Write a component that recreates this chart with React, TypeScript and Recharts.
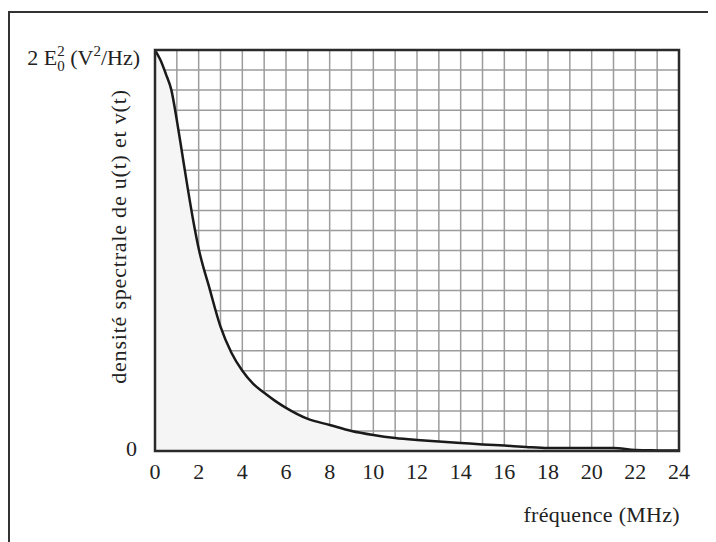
import { ComposedChart, Area, XAxis, YAxis, CartesianGrid, ReferenceArea, Label } from "recharts";

// fréquence (MHz) et densité spectrale (en carreaux, 20 = 2 E0²)
const freqMHz = [0, 0.25, 0.5, 0.75, 1, 1.25, 1.5, 1.75, 2, 2.5, 3, 3.5, 4, 4.5, 5, 5.5, 6, 7, 8, 9, 10, 11, 12, 13, 14, 15, 16, 17, 18, 19, 20, 21, 22, 23, 24];
const density = [20, 19.5, 18.8, 18.0, 16.5, 14.8, 13.1, 11.5, 10.1, 8.1, 6.2, 4.9, 4.0, 3.35, 2.9, 2.5, 2.15, 1.6, 1.3, 1.0, 0.8, 0.65, 0.55, 0.47, 0.4, 0.33, 0.27, 0.2, 0.15, 0.15, 0.15, 0.15, 0.05, 0.03, 0.02];

const xTicks = [0, 1, 2, 3, 4, 5, 6, 7, 8, 9, 10, 11, 12, 13, 14, 15, 16, 17, 18, 19, 20, 21, 22, 23, 24];
const yTicks = [0, 1, 2, 3, 4, 5, 6, 7, 8, 9, 10, 11, 12, 13, 14, 15, 16, 17, 18, 19, 20];

const data = freqMHz.map((f, i) => ({ f, d: density[i] }));

const FONT = "'Liberation Serif', 'Times New Roman', serif";
const INK = "#222";

const YTick = ({ x, y, payload }: any) => {
  if (payload.value === 0) {
    return (
      <text x={x} y={y + 5} textAnchor="end" fontFamily={FONT} fontSize={22} fill={INK}>
        0
      </text>
    );
  }
  if (payload.value === 20) {
    return (
      <text x={x + 3} y={y + 15} textAnchor="end" fontFamily={FONT} fontSize={22} fill={INK}>
        2 E
        <tspan dy={-9} fontSize={15}>2</tspan>
        <tspan dx={-7.5} dy={15} fontSize={15}>0</tspan>
        <tspan dy={-6}> (V</tspan>
        <tspan dy={-9} fontSize={15}>2</tspan>
        <tspan dy={9}>/Hz)</tspan>
      </text>
    );
  }
  return null;
};

const XTitle = ({ viewBox }: any) => (
  <text
    x={viewBox.x + viewBox.width + 1}
    y={viewBox.y + 71}
    textAnchor="end"
    fontFamily={FONT}
    fontSize={22}
    fill={INK}
    letterSpacing={0.3}
  >
    fréquence (MHz)
  </text>
);

const YTitle = ({ viewBox }: any) => {
  const cx = 118;
  const cy = viewBox.y + viewBox.height / 2 - 14;
  return (
    <text
      x={cx}
      y={cy}
      transform={`rotate(-90, ${cx}, ${cy})`}
      textAnchor="middle"
      fontFamily={FONT}
      fontSize={22}
      fill={INK}
      letterSpacing={0.8}
    >
      densité spectrale de u(t) et v(t)
    </text>
  );
};

export default function App() {
  return (
    <div style={{ position: "relative", width: 708, height: 534, overflow: "hidden", background: "#fff" }}>
      <div
        style={{
          position: "absolute",
          left: 0,
          top: 3,
          width: 702,
          height: 620,
          border: "2px solid #333",
          boxSizing: "border-box",
        }}
      />
      <div style={{ position: "absolute", left: 0, top: 0 }}>
        <ComposedChart width={708} height={534} data={data} margin={{ top: 42, right: 37, left: 0, bottom: 0 }}>
          <CartesianGrid stroke="#9c9c9c" strokeWidth={1.5} />
          <XAxis
            dataKey="f"
            type="number"
            domain={[0, 24]}
            ticks={xTicks}
            interval={0}
            tickFormatter={(v) => (v % 2 === 0 ? String(v) : "")}
            tickLine={false}
            axisLine={false}
            tickSize={0}
            tickMargin={12}
            height={91}
            tick={{ fontFamily: FONT, fontSize: 22, fill: INK }}
          >
            <Label content={<XTitle />} />
          </XAxis>
          <YAxis
            type="number"
            domain={[0, 20]}
            ticks={yTicks}
            interval={0}
            width={147}
            tickLine={false}
            axisLine={false}
            tickSize={0}
            tickMargin={18}
            tick={<YTick />}
          >
            <Label content={<YTitle />} />
          </YAxis>
          <Area
            type="monotone"
            dataKey="d"
            stroke="#1a1a1a"
            strokeWidth={2.5}
            fill="#f5f5f5"
            fillOpacity={1}
            isAnimationActive={false}
            dot={false}
            activeDot={false}
          />
          <ReferenceArea x1={0} x2={24} y1={0} y2={20} fill="none" stroke="#2a2a2a" strokeWidth={2.5} />
        </ComposedChart>
      </div>
    </div>
  );
}
